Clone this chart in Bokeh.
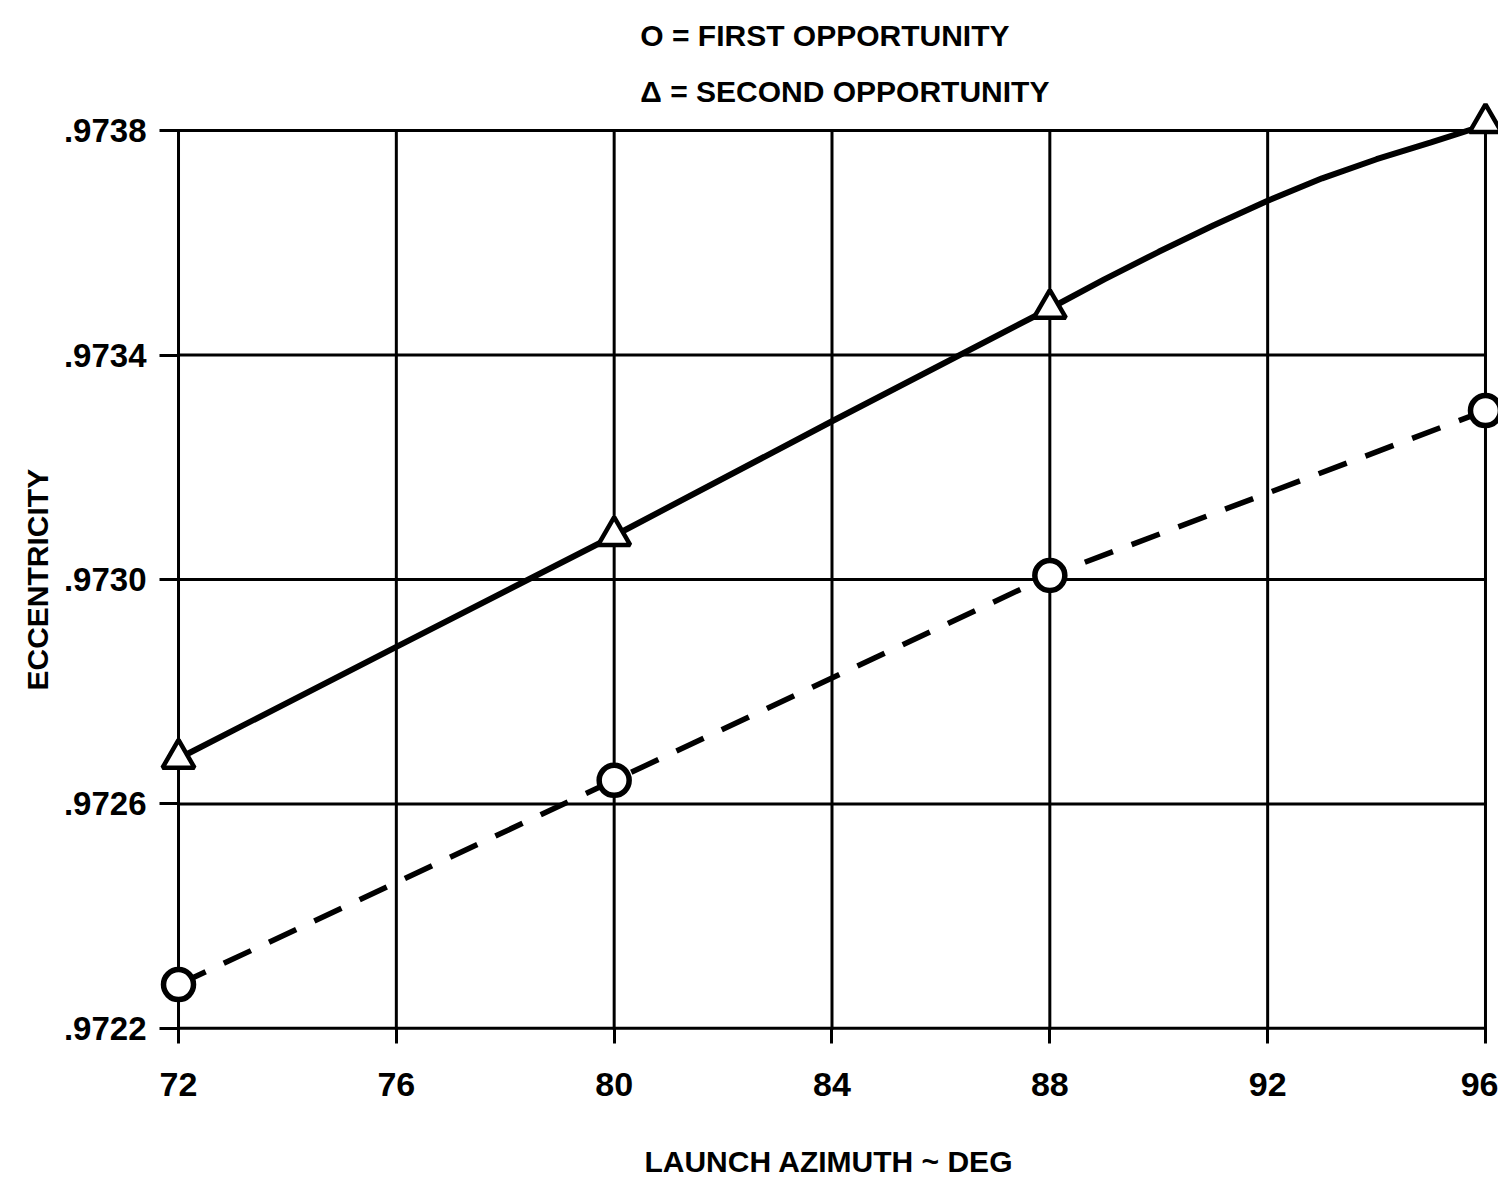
from bokeh.plotting import figure
from bokeh.models import Range1d, FixedTicker, Label, Title
from bokeh.embed import file_html
from bokeh.resources import INLINE

# ---- data ----
x_ticks = [72, 76, 80, 84, 88, 92, 96]
y_ticks = [0.9722, 0.9726, 0.9730, 0.9734, 0.9738]
y_tick_labels = [".9722", ".9726", ".9730", ".9734", ".9738"]

# first opportunity (circles, dashed)
first_az = [72, 80, 88, 96]
first_ecc = [0.972278, 0.972642, 0.973007, 0.973301]

# second opportunity (triangles, solid faired curve)
second_az = [72, 80, 88, 96]
second_ecc = [0.972681, 0.973078, 0.973483, 0.973814]
curve_az = [72, 76, 80, 84, 88, 89, 90, 91, 92, 93, 94, 95, 96]
curve_ecc = [0.972681, 0.972880, 0.973078, 0.973282, 0.973483, 0.973535, 0.973584,
             0.973631, 0.973675, 0.973715, 0.973749, 0.973779, 0.973810]

legend_lines = ["O = FIRST OPPORTUNITY", "\u0394 = SECOND OPPORTUNITY"]
x_title = "LAUNCH AZIMUTH ~ DEG"
y_title = "ECCENTRICITY"

FONT = "Liberation Sans"

# frame is a little larger than the grid so that edge markers and the
# legend lines are not clipped
p = figure(width=1498, height=1180, output_backend="svg", toolbar_location=None,
           x_range=Range1d(71.651, 96.239), y_range=Range1d(0.972173, 0.974023),
           min_border_left=159, min_border_right=0, min_border_top=5, min_border_bottom=137,
           background_fill_color="white", border_fill_color="white")

p.outline_line_color = None
p.grid.visible = False

# grid drawn only across the charted area
nx, ny = len(x_ticks), len(y_ticks)
p.segment(x0=x_ticks, y0=[y_ticks[0]] * nx, x1=x_ticks, y1=[y_ticks[-1]] * nx,
          line_color="black", line_width=3, line_cap="square")
p.segment(x0=[x_ticks[0]] * ny, y0=y_ticks, x1=[x_ticks[-1]] * ny, y1=y_ticks,
          line_color="black", line_width=3, line_cap="square")

p.xaxis.ticker = FixedTicker(ticks=x_ticks)
p.yaxis.ticker = FixedTicker(ticks=y_ticks)
p.yaxis.major_label_overrides = {t: l for t, l in zip(y_ticks, y_tick_labels)}

for ax in (p.xaxis, p.yaxis):
    ax.axis_line_color = None
    ax.major_tick_line_color = "black"
    ax.major_tick_line_width = 3
    ax.major_tick_out = 0
    ax.minor_tick_line_color = None
    ax.major_label_text_font = FONT
    ax.major_label_text_font_style = "bold"
    ax.major_label_text_color = "black"

p.xaxis.major_tick_in = 15
p.xaxis.major_label_standoff = 29
p.xaxis.major_label_text_font_size = "34px"
p.xaxis.axis_label = x_title
p.xaxis.axis_label_standoff = 46
p.xaxis.axis_label_text_font = FONT
p.xaxis.axis_label_text_font_style = "bold"
p.xaxis.axis_label_text_color = "black"
p.xaxis.axis_label_text_font_size = "30px"

p.yaxis.major_tick_in = 19
p.yaxis.major_label_standoff = 13
p.yaxis.major_label_text_font_size = "33px"

# y title, placed along the charted area rather than the taller frame
p.add_layout(Title(text=y_title, align="left", offset=353, standoff=14,
                   text_font=FONT, text_font_style="bold", text_font_size="30px",
                   text_color="black"), "left")

# lines
p.line(curve_az, curve_ecc, line_color="black", line_width=6)
p.line(first_az, first_ecc, line_color="black", line_width=5.5, line_dash="30 20")

# markers
p.scatter(second_az, second_ecc, marker="triangle", size=32, fill_color="white",
          line_color="black", line_width=4.5)
p.scatter(first_az, first_ecc, marker="circle", size=30, fill_color="white",
          line_color="black", line_width=5.5)

# legend text above the grid
for txt, yv in zip(legend_lines, [0.973969, 0.973869]):
    p.add_layout(Label(x=80.48, y=yv, text=txt, text_align="left", text_baseline="middle",
                       text_font=FONT, text_font_style="bold", text_font_size="30px",
                       text_color="black"))

open("out.html", "w").write(file_html(p, INLINE))
